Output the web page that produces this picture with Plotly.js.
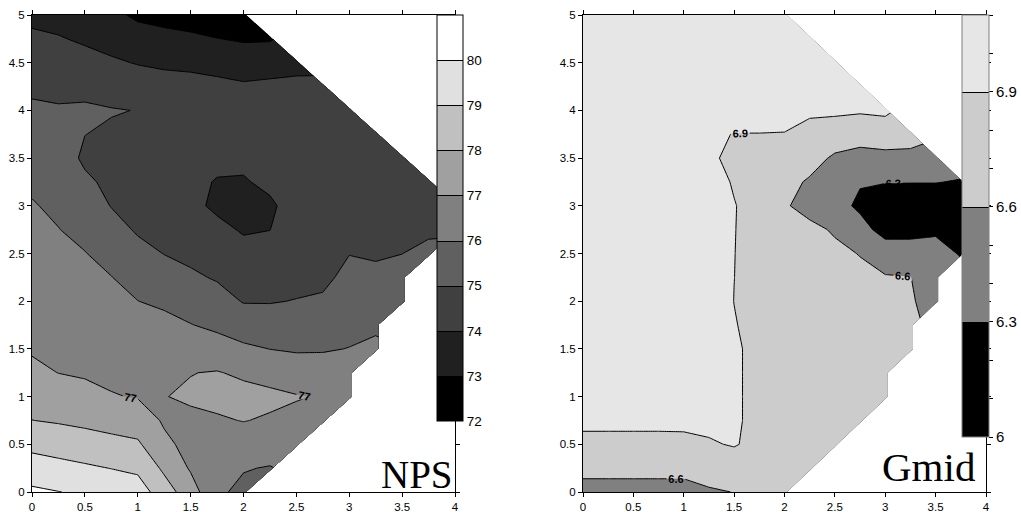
<!DOCTYPE html>
<html><head><meta charset="utf-8">
<script src="https://cdn.plot.ly/plotly-3.0.1.min.js"></script>
<style>html,body{margin:0;padding:0;background:#fff}#chart{width:1021px;height:512px}</style>
</head><body><div id="chart"></div>
<script>
const N = null;
const xGrid = [0,0.25,0.5,0.75,1,1.25,1.5,1.75,2,2.25,2.5,2.75,3,3.25,3.5,3.75,4];
const yGrid = [0,0.25,0.5,0.75,1,1.25,1.5,1.75,2,2.25,2.5,2.75,3,3.25,3.5,3.75,4,4.25,4.5,4.75,5];

// NPS values, one row per y in yGrid (bottom to top)
const npsZ = [
 [80.17,80.02,79.86,79.68,79.49,78.46,77.45,76.15,75.8,N,N,N,N,N,N,N,N],
 [79.46,79.30,79.14,78.98,78.81,77.82,76.9,76.2,76.05,75.95,N,N,N,N,N,N,N],
 [78.74,78.58,78.43,78.28,78.14,77.18,76.75,76.5,76.5,76.45,76.5,N,N,N,N,N,N],
 [78.01,77.91,77.79,77.64,77.49,76.9,76.85,76.9,77.03,76.9,76.8,76.6,N,N,N,N,N],
 [77.59,77.44,77.26,77.05,76.95,76.98,77.1,77.25,77.3,77.2,77.05,76.95,76.4,N,N,N,N],
 [77.18,76.99,76.91,76.82,76.71,76.8,76.98,77.05,76.85,76.67,76.51,76.4,76.25,N,N,N,N],
 [76.92,76.83,76.73,76.62,76.48,76.6,76.49,76.41,76.16,75.99,75.9,75.93,76.02,76.1,N,N,N],
 [76.78,76.67,76.56,76.42,76.24,76.3,76.03,75.81,75.53,75.45,75.47,75.53,75.76,75.92,N,N,N],
 [76.63,76.51,76.38,76.22,76.01,75.81,75.59,75.35,74.95,74.95,75.03,75.12,75.5,75.6,75.7,N,N],
 [76.49,76.35,76.2,76.02,75.64,75.4,75.14,74.92,74.61,74.6,74.75,74.8,75.24,75.2,75.4,N,N],
 [76.35,76.18,76.03,75.69,75.28,74.98,74.8,74.56,74.26,74.3,74.6,74.6,74.98,74.9,74.99,75.3,N],
 [76.21,76.02,75.75,75.33,74.9,74.7,74.4,74.21,73.92,73.99,74.5,74.5,74.75,74.7,74.75,74.8,74.9],
 [76.06,75.84,75.46,74.97,74.7,74.5,74.2,73.85,73.7,73.85,74.4,74.5,74.6,74.55,74.6,74.6,74.6],
 [75.86,75.65,75.16,74.8,74.6,74.4,74.2,73.95,73.92,74.2,74.5,74.5,74.55,74.5,74.5,74.5,N],
 [75.62,75.46,74.85,74.75,74.6,74.4,74.3,74.2,74.2,74.4,74.55,74.5,74.5,74.45,74.45,N,N],
 [75.38,75.27,75.01,74.88,74.65,74.45,74.4,74.35,74.35,74.5,74.55,74.45,74.45,74.4,N,N,N],
 [75.14,75.08,75.15,75.05,74.98,74.55,74.5,74.4,74.38,74.45,74.5,74.3,74.35,N,N,N,N],
 [74.85,74.79,74.72,74.6,74.5,74.38,74.35,74.25,74.12,74.2,74.2,74.1,N,N,N,N,N],
 [74.5,74.43,74.3,74.13,73.95,73.84,73.77,73.65,73.54,73.58,73.75,N,N,N,N,N,N],
 [74.15,74.06,73.88,73.66,73.38,73.27,73.16,73.02,72.9,72.92,N,N,N,N,N,N,N],
 [73.81,73.69,73.5,73.2,72.85,72.7,72.6,72.4,72.4,N,N,N,N,N,N,N,N]
];

// Gmid values, one row per y in yGrid (bottom to top)
const gmidZ = [
 [6.5,6.5,6.5,6.5,6.5,6.57,6.605,6.65,6.68,N,N,N,N,N,N,N,N],
 [6.68,6.68,6.68,6.68,6.68,6.72,6.78,6.78,6.8,6.78,N,N,N,N,N,N,N],
 [6.84,6.84,6.84,6.84,6.845,6.88,6.915,6.84,6.82,6.8,6.8,N,N,N,N,N,N],
 [6.95,6.95,6.95,6.95,6.95,6.95,6.93,6.84,6.82,6.8,6.8,6.8,N,N,N,N,N],
 [7,7,7,7,7,7,6.93,6.84,6.82,6.8,6.8,6.8,6.78,N,N,N,N],
 [7,7,7,7,7,7,6.93,6.84,6.82,6.8,6.8,6.8,6.77,N,N,N,N],
 [7,7,7,7,7,7,6.93,6.84,6.82,6.8,6.8,6.79,6.75,6.63,N,N,N],
 [7,7,7,7,7,7,6.91,6.84,6.82,6.8,6.8,6.76,6.72,6.62,N,N,N],
 [7,7,7,7,7,7,6.898,6.84,6.82,6.8,6.78,6.72,6.68,6.62,6.52,N,N],
 [7,7,7,7,7,7,6.901,6.84,6.82,6.8,6.72,6.66,6.62,6.605,6.45,N,N],
 [7,7,7,7,7,7,6.903,6.83,6.82,6.75,6.66,6.59,6.45,6.45,6.4,6.28,N],
 [7,7,7,7,7,7,6.906,6.82,6.72,6.67,6.57,6.4,6.2,6.2,6.26,6.15,6.2],
 [7,7,7,7,7,7,6.91,6.81,6.63,6.5,6.4,6.25,6.15,6.1,6.1,6.1,6.2],
 [7,7,7,7,7,7,6.88,6.8,6.68,6.57,6.42,6.32,6.31,6.31,6.31,6.28,N],
 [7,7,7,7,7,7,6.76,6.8,6.78,6.7,6.56,6.5,6.52,6.52,6.5,N,N],
 [7,7,7,7,7,6.93,6.895,6.895,6.89,6.8,6.75,6.72,6.75,6.72,N,N,N],
 [7,7,7,7,7,7,7,7,7,6.95,6.95,6.93,6.95,N,N,N,N],
 [7,7,7,7,7,7,7,7,7,7,7,7,N,N,N,N,N],
 [7,7,7,7,7,7,7,7,7,7,7,N,N,N,N,N,N],
 [7,7,7,7,7,7,7,7,7,7,N,N,N,N,N,N,N],
 [7,7,7,7,7,7,7,7,7,N,N,N,N,N,N,N,N]
];

const npsLevels = [73, 80, 1];
const gmidLevels = [6.3, 6.9, 0.3];
const npsRange = [72, 81];
const gmidRange = [6.0, 7.1];
const npsTickVals = [72,73,74,75,76,77,78,79,80];
const gmidTickVals = [6.0,6.1,6.2,6.3,6.4,6.5,6.6,6.7,6.8,6.9,7.0,7.1];
const gmidTickText = ['6','','','6.3','','','6.6','','','6.9','',''];
const xTicks = [0,0.5,1,1.5,2,2.5,3,3.5,4];
const yTicks = [0,0.5,1,1.5,2,2.5,3,3.5,4,4.5,5];
const panelNames = ['NPS','Gmid'];

const npsColors = [[0,'#000000'],[0.125,'#202020'],[0.25,'#404040'],[0.375,'#606060'],[0.5,'#808080'],[0.625,'#a0a0a0'],[0.75,'#c0c0c0'],[0.875,'#e0e0e0'],[1,'#ffffff']];
const gmidColors = [[0,'#000000'],[1/3,'#808080'],[2/3,'#cccccc'],[1,'#e6e6e6']];

const W = 1021, H = 512;
const sans = 'Liberation Sans, Arial, sans-serif';
const labelFont = {family: sans, size: 11, color: '#000', weight: 'bold'};

function base(z, xa, ya) {
  return {type:'contour', x:xGrid, y:yGrid, z:z, xaxis:xa, yaxis:ya,
          autocontour:false, connectgaps:false, hoverinfo:'skip', showscale:false};
}

// bottom layer: full fill with lines, provides the colour bar (its lines are covered by the next layer)
const npsScale = Object.assign(base(npsZ,'x','y'), {
  contours:{start:npsLevels[0], end:npsLevels[1], size:npsLevels[2], coloring:'fill', showlines:true},
  colorscale:npsColors, zmin:npsRange[0], zmax:npsRange[1],
  line:{width:1, color:'#000', smoothing:0},
  showscale:true,
  colorbar:{x:437/W, xanchor:'left', xpad:0, ypad:0, thickness:26, thicknessmode:'pixels',
    len:406/H, lenmode:'fraction', y:1-15/H, yanchor:'top',
    outlinewidth:1, outlinecolor:'#000', borderwidth:0,
    tickmode:'array', tickvals:npsTickVals, ticks:'', ticklen:0,
    tickfont:{family:sans, size:13.5, color:'#000'}}
});
const npsFill = Object.assign(base(npsZ,'x','y'), {
  contours:{start:npsLevels[0], end:npsLevels[1], size:npsLevels[2], coloring:'fill', showlines:false},
  colorscale:npsColors, zmin:npsRange[0], zmax:npsRange[1],
  line:{width:0, smoothing:0}
});
const npsLow = Object.assign(base(npsZ,'x','y'), {
  contours:{start:73, end:76, size:1, coloring:'none', showlines:true},
  line:{width:1, color:'#000', smoothing:0}
});
const nps77 = Object.assign(base(npsZ,'x','y'), {
  contours:{start:77, end:77, size:1, coloring:'none', showlines:true, showlabels:true, labelfont:labelFont},
  line:{width:1, color:'#000', smoothing:0}
});
const npsHigh = Object.assign(base(npsZ,'x','y'), {
  contours:{start:78, end:80, size:1, coloring:'none', showlines:true},
  line:{width:1, color:'#000', smoothing:0}
});

const gmid = Object.assign(base(gmidZ,'x2','y2'), {
  contours:{start:gmidLevels[0], end:gmidLevels[1], size:gmidLevels[2], coloring:'fill',
            showlines:true, showlabels:true, labelfont:labelFont},
  colorscale:gmidColors, zmin:gmidRange[0], zmax:gmidRange[1],
  line:{width:1, color:'#000', smoothing:0},
  showscale:true,
  colorbar:{x:962/W, xanchor:'left', xpad:0, ypad:0, thickness:27, thicknessmode:'pixels',
    len:422/H, lenmode:'fraction', y:1-15/H, yanchor:'top',
    outlinewidth:1, outlinecolor:'#808080', borderwidth:0,
    tickmode:'array', tickvals:gmidTickVals, ticktext:gmidTickText,
    ticks:'outside', ticklen:4, tickwidth:1, tickcolor:'#000',
    tickfont:{family:sans, size:15, color:'#000'}}
});

function xax(dom, anchor) {
  return {domain:dom, range:[0,4], anchor:anchor, tickmode:'array', tickvals:xTicks,
    showline:true, linecolor:'#000', linewidth:1, mirror:'ticks', ticks:'outside', ticklen:4,
    tickcolor:'#000', showgrid:false, zeroline:false, fixedrange:true,
    tickfont:{family:sans, size:11.5, color:'#000'}};
}
function yax(anchor) {
  return {domain:[20/H, 1-15/H], range:[0,5], anchor:anchor, tickmode:'array', tickvals:yTicks,
    showline:true, linecolor:'#000', linewidth:1, mirror:'ticks', ticks:'outside', ticklen:4,
    tickcolor:'#000', showgrid:false, zeroline:false, fixedrange:true,
    tickfont:{family:sans, size:11.5, color:'#000'}};
}

const layout = {
  width:W, height:H, margin:{l:0, r:0, t:0, b:0, autoexpand:false},
  paper_bgcolor:'#fff', plot_bgcolor:'#fff', showlegend:false,
  xaxis:xax([32/W, 455/W], 'y'), yaxis:yax('x'),
  xaxis2:xax([583/W, 986/W], 'y2'), yaxis2:yax('x2'),
  annotations:[
    {text:panelNames[0], xref:'paper', yref:'paper', x:455/W, y:1-474/H, xanchor:'right', yanchor:'middle',
     showarrow:false, font:{family:'Liberation Serif, Times New Roman, serif', size:39, color:'#000'}},
    {text:panelNames[1], xref:'paper', yref:'paper', x:977/W, y:1-467/H, xanchor:'right', yanchor:'middle',
     showarrow:false, font:{family:'Liberation Serif, Times New Roman, serif', size:41, color:'#000'}}
  ]
};

Plotly.newPlot('chart', [npsScale, npsFill, npsLow, nps77, npsHigh, gmid], layout, {staticPlot:true, displayModeBar:false});
</script>
</body></html>
